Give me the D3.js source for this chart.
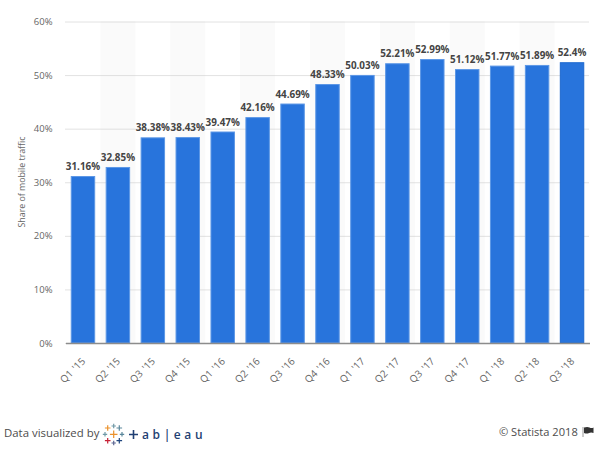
<!DOCTYPE html>
<html>
<head>
<meta charset="utf-8">
<script src="https://cdn.jsdelivr.net/npm/d3@7"></script>
<style>
  html, body { margin: 0; padding: 0; background: #fff; }
  svg { display: block; font-family: "Open Sans", sans-serif; }
</style>
</head>
<body>
<svg></svg>
<script>
const quarters = ["Q1 '15", "Q2 '15", "Q3 '15", "Q4 '15", "Q1 '16", "Q2 '16", "Q3 '16", "Q4 '16",
  "Q1 '17", "Q2 '17", "Q3 '17", "Q4 '17", "Q1 '18", "Q2 '18", "Q3 '18"];
const shares = [31.16, 32.85, 38.38, 38.43, 39.47, 42.16, 44.69, 48.33,
  50.03, 52.21, 52.99, 51.12, 51.77, 51.89, 52.4];
const shareLabels = ["31.16%", "32.85%", "38.38%", "38.43%", "39.47%", "42.16%", "44.69%", "48.33%",
  "50.03%", "52.21%", "52.99%", "51.12%", "51.77%", "51.89%", "52.4%"];
const yTicks = [0, 10, 20, 30, 40, 50, 60];

const width = 600;
const height = 450;
const left = 65.5;
const right = 589.5;
const top_ = 21.5;
const bottom = 343;

const svg = d3.select("svg").attr("width", width).attr("height", height);

const xScale = d3.scaleBand().domain(quarters).range([left, right]).paddingInner(0.3).paddingOuter(0.15);
const yScale = d3.scaleLinear().domain([0, 60]).range([bottom, top_]);
const step = xScale.step();

// striped background behind every other quarter
svg.append("g")
  .selectAll("rect")
  .data(quarters.filter((d, i) => i % 2 === 1))
  .join("rect")
  .attr("x", (d) => xScale(d) + xScale.bandwidth() / 2 - step / 2)
  .attr("y", top_)
  .attr("width", step)
  .attr("height", bottom - top_)
  .attr("fill", "#fafafa");

// y axis with dotted grid
const yAxis = d3.axisLeft(yScale)
  .tickValues(yTicks)
  .tickSize(-(right - left))
  .tickPadding(13)
  .tickFormat((d) => d + "%");

const yGroup = svg.append("g")
  .attr("transform", "translate(" + left + ",0)")
  .call(yAxis);
yGroup.select(".domain").remove();
yGroup.selectAll(".tick line")
  .attr("stroke", "#c4c4c4")
  .attr("stroke-dasharray", "1,1");
yGroup.selectAll(".tick text")
  .attr("fill", "#666")
  .style("font-size", "9.5px")
  .style("font-family", "'Open Sans', sans-serif");

// bars, lighter edge like the original, last one darker
svg.append("g")
  .selectAll("rect")
  .data(quarters)
  .join("rect")
  .attr("x", (d) => xScale(d) + 0.5)
  .attr("y", (d, i) => yScale(shares[i]) + 0.5)
  .attr("width", xScale.bandwidth() - 1)
  .attr("height", (d, i) => bottom - yScale(shares[i]) - 0.5)
  .attr("fill", "#2874dc")
  .attr("stroke", (d, i) => (i === quarters.length - 1 ? "#1d68cf" : "#5c97e6"))
  .attr("stroke-width", 1);

// value labels
svg.append("g")
  .selectAll("text")
  .data(quarters)
  .join("text")
  .attr("x", (d) => xScale(d) + xScale.bandwidth() / 2)
  .attr("y", (d, i) => yScale(shares[i]) - 6)
  .attr("text-anchor", "middle")
  .attr("fill", "#444")
  .style("font-size", "9.9px")
  .style("font-weight", "700")
  .text((d, i) => shareLabels[i]);

// x axis
const xAxis = d3.axisBottom(xScale).tickSize(0).tickPadding(0);
const xGroup = svg.append("g")
  .attr("transform", "translate(0," + bottom + ")")
  .call(xAxis);
xGroup.select(".domain").attr("stroke", "#8c8c8c").attr("stroke-width", 1.4);
xGroup.selectAll(".tick text")
  .attr("fill", "#666")
  .attr("text-anchor", "end")
  .attr("dy", 0)
  .attr("transform", "translate(3,19) rotate(-45)")
  .style("font-size", "10px")
  .style("word-spacing", "1px")
  .style("font-family", "'Open Sans', sans-serif");

// y axis title
svg.append("text")
  .attr("transform", "translate(24.5,182) rotate(-90)")
  .attr("text-anchor", "middle")
  .attr("fill", "#666")
  .style("font-size", "8.8px")
  .text("Share of mobile traffic");

// footer
svg.append("text")
  .attr("x", 4)
  .attr("y", 437)
  .attr("fill", "#4c4c4c")
  .style("font-size", "11.4px")
  .text("Data visualized by");

svg.append("text")
  .attr("x", 499)
  .attr("y", 436)
  .attr("fill", "#4c4c4c")
  .style("font-size", "11.1px")
  .text("© Statista 2018");

// flag icon
const flag = svg.append("g").attr("transform", "translate(582.5,427)");
flag.append("rect").attr("width", 1).attr("height", 10).attr("fill", "#999");
flag.append("path").attr("d", "M1.5 0.5 Q5 -0.5 7 0.5 T11 0.5 V6 Q8.5 5 6.5 6 T1.5 6 Z").attr("fill", "#333");

// tableau logo, crosses then wordmark
const logoCrosses = [
  [113.7, 426, 2.2, "#7199a6"], [107.7, 428, 2.8, "#eb912b"], [119.3, 428, 2.8, "#5b879b"],
  [105, 434.3, 2.2, "#7099a6"], [113.7, 434.3, 3.8, "#eb912b"], [122, 434.3, 2.2, "#59879b"],
  [107.7, 440.7, 2.8, "#c72035"], [119.3, 440.7, 2.8, "#1f457e"], [113.7, 443, 2.2, "#5c6692"]
];
const logo = svg.append("g");
logoCrosses.forEach(([cx, cy, r, color]) => {
  logo.append("path")
    .attr("d", "M" + (cx - r) + " " + cy + "H" + (cx + r) + "M" + cx + " " + (cy - r) + "V" + (cy + r))
    .attr("stroke", color)
    .attr("stroke-width", 1.2)
    .attr("fill", "none");
});
logo.append("path")
  .attr("d", "M129 434.5H138M133.5 430V439")
  .attr("stroke", "#1f3f73")
  .attr("stroke-width", 1.6);
svg.append("text")
  .attr("x", 142)
  .attr("y", 439)
  .attr("fill", "#1f3f73")
  .style("font-size", "12px")
  .style("font-weight", "600")
  .style("letter-spacing", "3.6px")
  .text("ab|eau");
</script>
</body>
</html>
